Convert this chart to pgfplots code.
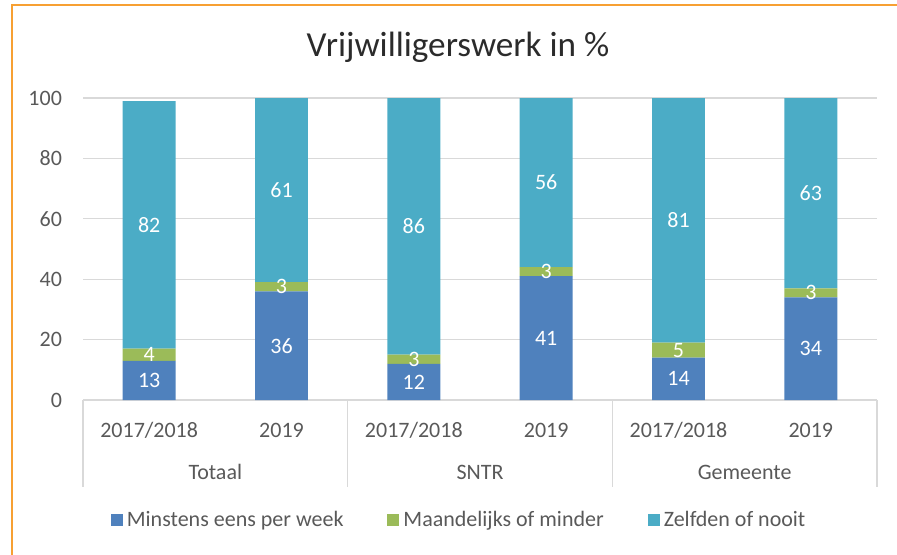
\documentclass[border=0pt]{standalone}
\usepackage{pgfplots}
\pgfplotsset{compat=1.18}
\usetikzlibrary{calc}
\usepackage{fontspec}
\setmainfont{Carlito}
\definecolor{cblue}{HTML}{4F81BD}
\definecolor{cgreen}{HTML}{9BBB59}
\definecolor{cteal}{HTML}{4BACC6}
\definecolor{txtgray}{HTML}{595959}
\definecolor{titlegray}{HTML}{2B2B2B}
\definecolor{gridgray}{HTML}{D9D9D9}
\definecolor{bordercol}{RGB}{247,160,50}
\begin{document}
\begin{tikzpicture}
\useasboundingbox (0,0) rectangle (448.5pt,277pt);
\draw[bordercol, line width=1pt] (6pt,-2pt) -- (6pt,274.5pt) -- (452pt,274.5pt);
\node[titlegray, font=\fontsize{17.6}{20}\selectfont] at (229pt,253.5pt) {Vrijwilligerswerk in \%};
\begin{axis}[
  at={(41.5pt,77pt)}, anchor=south west,
  scale only axis, width=397pt, height=151pt,
  ybar stacked, bar width=0.4,
  xmin=-0.5, xmax=5.5, ymin=0, ymax=100,
  xtick={0,...,5},
  xticklabels={2017/2018,2019,2017/2018,2019,2017/2018,2019},
  ytick={0,20,...,100},
  ymajorgrids, grid style={gridgray, line width=0.6pt},
  axis x line*=bottom, axis y line*=left,
  x axis line style={gridgray, line width=0.6pt, -},
  y axis line style={draw=none},
  major tick length=0pt,
  tick label style={txtgray, font=\fontsize{11}{13}\selectfont},
  yticklabel style={anchor=east, xshift=-7pt},
  xticklabel style={anchor=center, yshift=-15pt},
  /pgf/number format/assume math mode=true,
  nodes near coords,
  every node near coord/.append style={white, anchor=center,
    font=\fontsize{11}{13}\selectfont,
    /pgf/number format/assume math mode=true},
  legend style={at={(0.475,-0.397)}, anchor=center, draw=none, fill=none,
    legend columns=-1, text=txtgray, font=\fontsize{11}{13}\selectfont,
    /tikz/every even column/.append style={column sep=20pt},
    /tikz/every odd column/.append style={column sep=0pt}},
  legend image code/.code={\fill[#1] (0pt,-3pt) rectangle (6pt,3pt);},
]
\addplot[fill=cblue, draw=none] coordinates {(0,13) (1,36) (2,12) (3,41) (4,14) (5,34)};
\addplot[fill=cgreen, draw=none] coordinates {(0,4) (1,3) (2,3) (3,3) (4,5) (5,3)};
\addplot[fill=cteal, draw=none, point meta=explicit] coordinates {(0,82) [82] (1,61) [61] (2,85) [86] (3,56) [56] (4,81) [81] (5,63) [63]};
\legend{Minstens eens per week, Maandelijks of minder, Zelfden of nooit}
\coordinate (s0) at (axis cs:-0.5,0);
\coordinate (s1) at (axis cs:1.5,0);
\coordinate (s2) at (axis cs:3.5,0);
\coordinate (s3) at (axis cs:5.5,0);
\end{axis}
\foreach \i in {0,...,3} \draw[gridgray, line width=0.6pt] (s\i) -- ++(0,-43.5pt);
\node[txtgray, font=\fontsize{11}{13}\selectfont] at ($(s0)!0.5!(s1)+(0,-36pt)$) {Totaal};
\node[txtgray, font=\fontsize{11}{13}\selectfont] at ($(s1)!0.5!(s2)+(0,-36pt)$) {SNTR};
\node[txtgray, font=\fontsize{11}{13}\selectfont] at ($(s2)!0.5!(s3)+(0,-36pt)$) {Gemeente};
\end{tikzpicture}
\end{document}
